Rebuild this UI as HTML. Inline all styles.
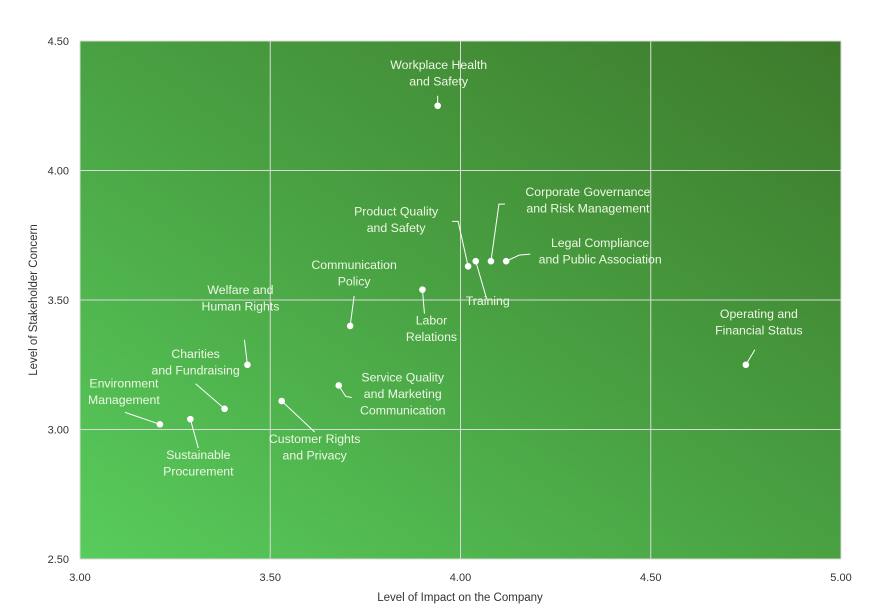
<!DOCTYPE html>
<html><head><meta charset="utf-8"><style>
body{margin:0;background:#fff;font-family:"Liberation Sans",sans-serif}
svg{display:block}
</style></head><body>
<svg id="chart" width="875" height="616" xmlns="http://www.w3.org/2000/svg">
<defs><linearGradient id="bg" x1="0" y1="1" x2="1" y2="0">
<stop offset="0" stop-color="#58cc5c"/><stop offset="0.5" stop-color="#49a142"/><stop offset="1" stop-color="#3d7a2b"/></linearGradient></defs>
<rect x="80" y="41" width="761" height="518" fill="url(#bg)"/>
<g id="grid"></g><g id="ticks"></g><g id="leaders"></g><g id="points"></g><g id="labels"></g>
<text x="460" y="601" text-anchor="middle" font-size="11.5" fill="#333">Level of Impact on the Company</text>
<text transform="translate(37,300) rotate(-90)" text-anchor="middle" font-size="11.5" fill="#333">Level of Stakeholder Concern</text>
</svg>
<script>
const topics=["Workplace Health|and Safety","Product Quality|and Safety","Training","Corporate Governance|and Risk Management","Legal Compliance|and Public Association","Labor|Relations","Communication|Policy","Welfare and|Human Rights","Charities|and Fundraising","Environment|Management","Sustainable|Procurement","Customer Rights|and Privacy","Service Quality|and Marketing|Communication","Operating and|Financial Status"];
const impact=[3.94,4.02,4.04,4.08,4.12,3.90,3.71,3.44,3.38,3.21,3.29,3.53,3.68,4.75];
const concern=[4.25,3.63,3.65,3.65,3.65,3.54,3.40,3.25,3.08,3.02,3.04,3.11,3.17,3.25];
const xTicks=["3.00","3.50","4.00","4.50","5.00"];
const yTicks=["2.50","3.00","3.50","4.00","4.50"];
// label placement offsets (px, relative to point): [labelCx, labelTopY, leader points...]
const lab=[[1,-37,[[0,-10]]],[-72,-51,[[-10,-45],[-16,-45]]],[12,44,[[11,38]]],[97,-65,[[8,-57],[14,-57]]],[94,-14,[[13,-6],[24,-7]]],[9,35,[[2,24]]],[4,-57,[[4,-30]]],[-7,-71,[[-3,-25]]],[-29,-51,[[-29,-25]]],[-36,-37,[[-35,-12]]],[8,40,[[8,29]]],[33,42,[[33,31]]],[64,-4,[[7,11],[13,12]]],[13,-47,[[9,-15]]]];
const X=v=>80+(v-3)*380.5, Y=v=>559-(v-2.5)*259;
const NS="http://www.w3.org/2000/svg";
function mk(t,a,p){const e=document.createElementNS(NS,t);for(const k in a)e.setAttribute(k,a[k]);document.getElementById(p).appendChild(e);return e;}
xTicks.forEach(t=>{const x=X(+t);
 const l=mk("line",{x1:x,x2:x,y1:41,y2:559,stroke:"#d9d9d9","stroke-width":1},"grid");
 
 
 const e=mk("text",{x:x,y:581,"text-anchor":"middle","font-size":11,fill:"#333"},"ticks");e.textContent=t;
 
 });
yTicks.forEach(t=>{const y=Y(+t);
 const l=mk("line",{x1:80,x2:841,y1:y,y2:y,stroke:"#d9d9d9","stroke-width":1},"grid");
 
 
 const e=mk("text",{x:69,y:y+4,"text-anchor":"end","font-size":11,fill:"#333"},"ticks");e.textContent=t;
 
 });
topics.forEach((t,i)=>{const x=X(impact[i]),y=Y(concern[i]);const o=lab[i];
 const pts=[[x,y]].concat(o[2].map(p=>[x+p[0],y+p[1]]));
 const pl=mk("polyline",{points:pts.map(p=>p.join(",")).join(" "),fill:"none",stroke:"#fff","stroke-width":1},"leaders");
 
 
 const c=mk("circle",{cx:x,cy:y,r:3.3,fill:"#fff"},"points");
 
 
 const lines=t.split("|");
 const tx=mk("text",{x:x+o[0],y:y+o[1],"text-anchor":"middle","font-size":12.3,fill:"#eef7e6"},"labels");
 
 
 lines.forEach((s,j)=>{const sp=document.createElementNS(NS,"tspan");sp.setAttribute("x",x+o[0]);sp.setAttribute("dy",j?16.5:0);sp.textContent=s;tx.appendChild(sp);});
});
</script>
</body></html>
